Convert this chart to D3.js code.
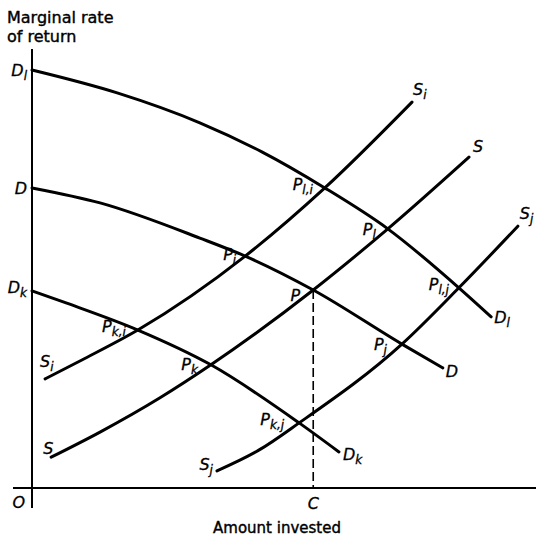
<!DOCTYPE html>
<html>
<head>
<meta charset="utf-8">
<script src="https://cdn.jsdelivr.net/npm/d3@7"></script>
<style>
  html, body { margin: 0; padding: 0; background: #fff; }
  svg { display: block; }
  .lbl { font-family: "DejaVu Sans", sans-serif; font-style: italic; fill: #000; stroke: #000; stroke-width: 0.3; }
  .ttl { font-family: "DejaVu Sans", sans-serif; fill: #000; stroke: #000; stroke-width: 0.4; }
</style>
</head>
<body>
<script>
// ---- data (x: amount invested, y: marginal rate of return, arbitrary units 0..100) ----
const dlX = [0, 16.9, 33.3, 45.6, 58.1, 70.6, 84.7, 91.1];
const dlY = [95.0, 89.8, 83.0, 76.4, 68.2, 58.9, 45.5, 38.9];
const dX  = [0, 13.5, 33.3, 42.3, 55.8, 73.4, 81.5];
const dY  = [68.2, 64.8, 56.8, 52.7, 45.0, 32.7, 27.3];
const dkX = [0, 6.9, 21.0, 35.5, 53.0, 60.9];
const dkY = [44.8, 42.0, 35.9, 28.0, 14.8, 8.2];
const siX = [2.6, 9.9, 21.0, 42.3, 58.1, 75.4];
const siY = [24.8, 29.1, 35.9, 52.7, 68.2, 87.7];
const sX  = [3.8, 13.5, 25.4, 35.5, 55.8, 70.6, 86.7];
const sY  = [7.0, 12.7, 20.5, 28.0, 45.0, 58.9, 75.2];
const sjX = [36.7, 45.0, 53.0, 73.4, 84.7, 96.4];
const sjY = [3.9, 8.6, 14.8, 32.7, 45.5, 59.5];
// equilibrium amount invested (point P)
const cX = 55.8, cY = 45.0;
// intersection labels
const ptNames = ["P","P","P","P","P","P","P","P","P"];
const ptSubs  = ["l,i","l","l,j","i","","j","k,i","k","k,j"];
const ptX = [58.1, 70.6, 84.7, 42.3, 55.8, 73.4, 21.0, 35.5, 53.0];
const ptY = [68.2, 58.9, 45.5, 52.7, 45.0, 32.7, 35.9, 28.0, 14.8];
const yTitle = ["Marginal rate", "of return"];
const xTitle = "Amount invested";

// ---- layout ----
const W = 536, H = 537;
const x = d3.scaleLinear().domain([0, 100]).range([32, 536]);
const y = d3.scaleLinear().domain([0, 100]).range([488, 48]);

const svg = d3.select("body").append("svg").attr("width", W).attr("height", H);

// axes
svg.append("line").attr("x1", x(0)).attr("x2", x(0)).attr("y1", 49).attr("y2", 508)
  .attr("stroke", "#000").attr("stroke-width", 2);
svg.append("line").attr("x1", 13).attr("x2", W).attr("y1", y(0)).attr("y2", y(0))
  .attr("stroke", "#000").attr("stroke-width", 2);

// curves
const line = d3.line().x(d => x(d[0])).y(d => y(d[1])).curve(d3.curveMonotoneX);
const curves = [[dlX, dlY], [dX, dY], [dkX, dkY], [siX, siY], [sX, sY], [sjX, sjY]];
curves.forEach(([xs, ys]) => {
  svg.append("path").datum(xs.map((v, i) => [v, ys[i]]))
    .attr("d", line).attr("fill", "none").attr("stroke", "#000")
    .attr("stroke-width", 3).attr("stroke-linecap", "round");
});

// dashed line at C
svg.append("line").attr("x1", x(cX)).attr("x2", x(cX)).attr("y1", y(cY)).attr("y2", y(0))
  .attr("stroke", "#000").attr("stroke-width", 1.6).attr("stroke-dasharray", "9,4");

// label helper
function label(px, py, main, sub, anchor) {
  const t = svg.append("text").attr("class", "lbl").attr("x", px).attr("y", py)
    .attr("text-anchor", anchor || "start");
  t.append("tspan").attr("font-size", 16).text(main);
  if (sub) t.append("tspan").attr("font-size", 12).attr("dy", 4).text(sub);
  return t;
}

// axis end labels
label(27, 76, "D", "l", "end");
label(27, 194, "D", "", "end");
label(27, 293, "D", "k", "end");
label(25, 508, "O", "", "end");
label(x(cX), 509, "C", "", "middle");

// curve end labels (relative to curve ends)
const endL = (xs, ys, i) => [x(xs[i]), y(ys[i])];
let p;
p = endL(dlX, dlY, dlX.length - 1); label(p[0] + 3, p[1] + 6, "D", "l");
p = endL(dX, dY, dX.length - 1);    label(p[0] + 3, p[1] + 9, "D", "");
p = endL(dkX, dkY, dkX.length - 1); label(p[0] + 4, p[1] + 8, "D", "k");
p = endL(siX, siY, siX.length - 1); label(p[0] + 1, p[1] - 7, "S", "i");
p = endL(sX, sY, sX.length - 1);    label(p[0] + 4, p[1] - 5, "S", "");
p = endL(sjX, sjY, sjX.length - 1); label(p[0] + 2, p[1] - 7, "S", "j");
p = endL(siX, siY, 0); label(p[0] - 5, p[1] - 12, "S", "i");
p = endL(sX, sY, 0);   label(p[0] - 8, p[1] - 3, "S", "");
p = endL(sjX, sjY, 0); label(p[0] - 4, p[1] - 1, "S", "j", "end");

// intersection labels
const ptOff = [[-12, 2], [-12, 6], [-10, 2], [-9, 4], [-13, 11], [-15, 6], [-12, 2], [-13, 5], [-15, 2]];
ptX.forEach((v, i) => {
  label(x(v) + ptOff[i][0], y(ptY[i]) + ptOff[i][1], ptNames[i], ptSubs[i], "end");
});

// titles
const tt = svg.append("text").attr("class", "ttl").attr("font-size", 16);
yTitle.forEach((s, i) => tt.append("tspan").attr("x", 7).attr("y", 23 + i * 19).text(s));
svg.append("text").attr("class", "ttl").attr("font-size", 15)
  .attr("x", 277).attr("y", 533).attr("text-anchor", "middle").text(xTitle);
</script>
</body>
</html>
